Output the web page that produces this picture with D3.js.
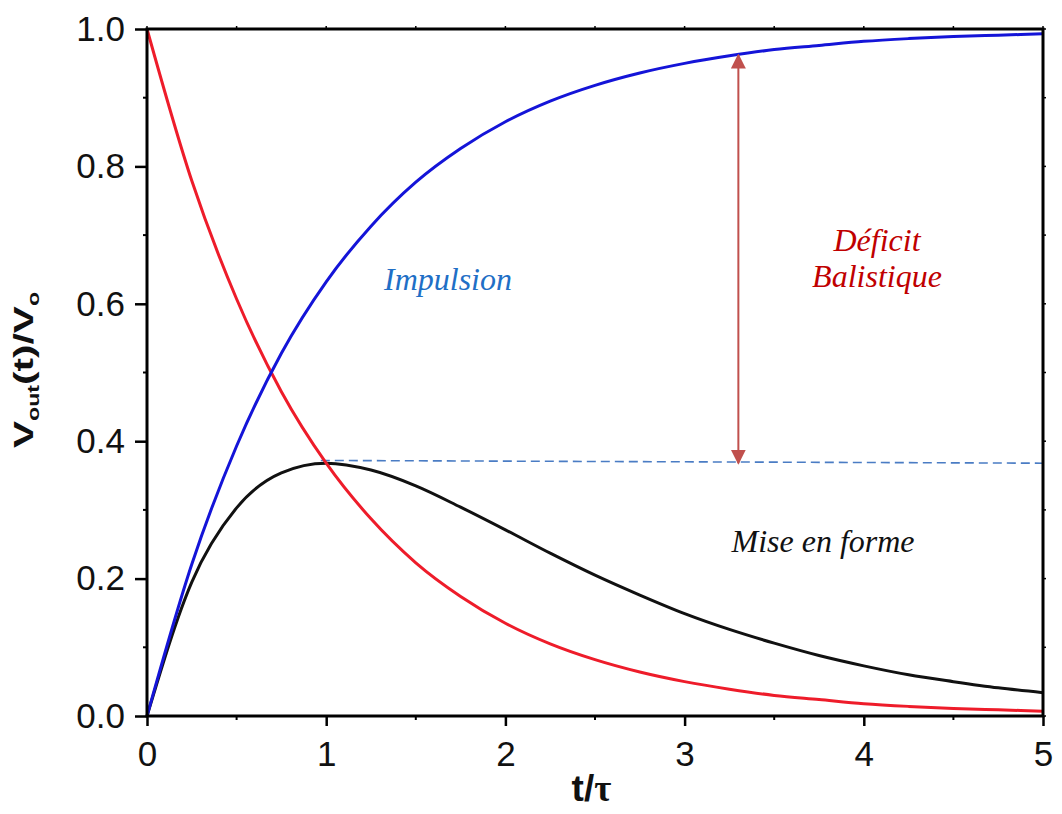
<!DOCTYPE html>
<html>
<head>
<meta charset="utf-8">
<script src="https://cdn.jsdelivr.net/npm/d3@7"></script>
<style>
  body { margin: 0; background: #fff; }
  .tick text { font-family: "Liberation Sans", Arial, sans-serif; }
</style>
</head>
<body>
<svg class="chart"></svg>
<script>
(function() {
  'use strict';

var tValues = [0, 0.25, 0.5, 0.75, 1, 1.25, 1.5, 1.75, 2, 2.25, 2.5, 2.75, 3, 3.25, 3.5, 3.75, 4, 4.25, 4.5, 4.75, 5];
var decay   = [1, 0.779, 0.607, 0.472, 0.368, 0.287, 0.223, 0.174, 0.135, 0.105, 0.082, 0.064, 0.050, 0.039, 0.030, 0.024, 0.018, 0.014, 0.011, 0.009, 0.007];
var impulse = [0, 0.221, 0.393, 0.528, 0.632, 0.713, 0.777, 0.826, 0.865, 0.895, 0.918, 0.936, 0.950, 0.961, 0.970, 0.976, 0.982, 0.986, 0.989, 0.991, 0.993];
var shaped  = [0, 0.195, 0.303, 0.354, 0.368, 0.358, 0.335, 0.304, 0.271, 0.237, 0.205, 0.176, 0.149, 0.126, 0.106, 0.088, 0.073, 0.060, 0.050, 0.041, 0.034];

var xTicks = [0, 1, 2, 3, 4, 5];
var yTicks = [0, 0.2, 0.4, 0.6, 0.8, 1.0];
var xMinor = [0.5, 1.5, 2.5, 3.5, 4.5];
var yMinor = [0.1, 0.3, 0.5, 0.7, 0.9];

// peak level (dashed) and arrow position
var peakLine = {x0: 0.97, x1: 5, y0: 0.372, y1: 0.368};
var arrow = {x: 3.3, yTop: 0.962, yBottom: 0.368};

var margin = {top: 29, right: 19, bottom: 98, left: 147},
    width = 1062 - margin.left - margin.right,
    height = 814 - margin.top - margin.bottom;

var svg = d3.select('.chart')
    .attr('width', 1062)
    .attr('height', 814);

var defs = svg.append('defs');
defs.append('marker')
    .attr('id', 'head')
    .attr('viewBox', '0 0 10 10')
    .attr('refX', 9).attr('refY', 5)
    .attr('markerWidth', 15).attr('markerHeight', 15)
    .attr('markerUnits', 'userSpaceOnUse')
    .attr('orient', 'auto-start-reverse')
  .append('path')
    .attr('d', 'M0,0 L10,5 L0,10 z')
    .attr('fill', '#c0504d');

var chart = svg.append('g')
    .attr('transform', 'translate(' + margin.left + ',' + margin.top + ')');

var x = d3.scaleLinear().domain([0, 5]).range([0, width]);
var y = d3.scaleLinear().domain([0, 1]).range([height, 0]);

var line = function(vals) {
  return d3.line()
    .x(function(d, i) { return x(tValues[i]); })
    .y(function(d) { return y(d); })
    .curve(d3.curveMonotoneX)(vals);
};

// dashed peak level
chart.append('line')
    .attr('x1', x(peakLine.x0)).attr('y1', y(peakLine.y0))
    .attr('x2', x(peakLine.x1)).attr('y2', y(peakLine.y1))
    .attr('stroke', '#4a7cc4')
    .attr('stroke-width', 1.6)
    .attr('stroke-dasharray', '9,5');

// curves
chart.append('path').attr('d', line(shaped))
    .attr('fill', 'none').attr('stroke', '#111').attr('stroke-width', 3);
chart.append('path').attr('d', line(decay))
    .attr('fill', 'none').attr('stroke', '#ee1c2a').attr('stroke-width', 3);
chart.append('path').attr('d', line(impulse))
    .attr('fill', 'none').attr('stroke', '#1414d8').attr('stroke-width', 3);

// double arrow
chart.append('line')
    .attr('x1', x(arrow.x)).attr('y1', y(arrow.yBottom))
    .attr('x2', x(arrow.x)).attr('y2', y(arrow.yTop))
    .attr('stroke', '#c0504d')
    .attr('stroke-width', 2)
    .attr('marker-start', 'url(#head)')
    .attr('marker-end', 'url(#head)');

// frame
chart.append('rect')
    .attr('width', width).attr('height', height)
    .attr('fill', 'none').attr('stroke', '#000').attr('stroke-width', 3);

// axes
var xAxis = d3.axisBottom(x).tickValues(xTicks).tickFormat(d3.format('d'))
    .tickSizeInner(10).tickSizeOuter(0).tickPadding(15);
var yAxis = d3.axisLeft(y).tickValues(yTicks).tickFormat(d3.format('.1f'))
    .tickSizeInner(12).tickSizeOuter(0).tickPadding(10);

var gx = chart.append('g')
    .attr('transform', 'translate(0,' + height + ')')
    .call(xAxis);
var gy = chart.append('g').call(yAxis);

[gx, gy].forEach(function(g) {
  g.select('.domain').remove();
  g.selectAll('.tick line').attr('stroke', '#000').attr('stroke-width', 2.5);
  g.selectAll('.tick text').attr('fill', '#111').style('font-size', '35px');
});

// minor ticks
chart.selectAll('.xminor')
    .data(xMinor)
  .enter().append('line')
    .attr('x1', function(d) { return x(d); }).attr('x2', function(d) { return x(d); })
    .attr('y1', height).attr('y2', height + 4)
    .attr('stroke', '#000').attr('stroke-width', 2);
chart.selectAll('.yminor')
    .data(yMinor)
  .enter().append('line')
    .attr('y1', function(d) { return y(d); }).attr('y2', function(d) { return y(d); })
    .attr('x1', 0).attr('x2', -4)
    .attr('stroke', '#000').attr('stroke-width', 2);
// top and right small ticks
chart.selectAll('.xtop')
    .data(xTicks.concat(xMinor))
  .enter().append('line')
    .attr('x1', function(d) { return x(d); }).attr('x2', function(d) { return x(d); })
    .attr('y1', 0).attr('y2', -3)
    .attr('stroke', '#000').attr('stroke-width', 1.5);
chart.selectAll('.yright')
    .data(yTicks.concat(yMinor))
  .enter().append('line')
    .attr('y1', function(d) { return y(d); }).attr('y2', function(d) { return y(d); })
    .attr('x1', width).attr('x2', width + 3)
    .attr('stroke', '#000').attr('stroke-width', 1.5);

// axis titles
var xt = chart.append('text')
    .attr('x', x(2.48))
    .attr('y', height + 85)
    .attr('text-anchor', 'middle')
    .style('font-family', '"Liberation Sans", Arial, sans-serif')
    .style('font-weight', 'bold')
    .style('font-size', '37px')
    .attr('fill', '#111');
xt.append('tspan').text('t/');
xt.append('tspan').text('τ').style('font-family', '"Liberation Serif", serif');

// y title is drawn stretched along its length, like the reference
var yt = chart.append('text')
    .attr('transform', 'translate(' + (-114) + ',' + (370 - margin.top) + ') rotate(-90) scale(1.45,1)')
    .attr('text-anchor', 'middle')
    .style('font-family', '"Liberation Sans", Arial, sans-serif')
    .style('font-weight', 'bold')
    .style('font-size', '28px')
    .attr('fill', '#111');
yt.append('tspan').text('V');
yt.append('tspan').text('out').attr('dy', 6).style('font-size', '16px');
yt.append('tspan').text('(t)/V').attr('dy', -6);
yt.append('tspan').text('o').attr('dy', 6).style('font-size', '16px');

// annotations (positions in page pixels)
var serif = '"Liberation Serif", "Times New Roman", serif';
function note(tx, ty, col, s) {
  chart.append('text')
      .attr('x', tx - margin.left).attr('y', ty - margin.top)
      .attr('text-anchor', 'middle')
      .style('font-family', serif).style('font-style', 'italic').style('font-size', '32px')
      .attr('fill', col)
      .text(s);
}
note(448, 290, '#1f6fc6', 'Impulsion');
note(877, 251, '#c00000', 'Déficit');
note(877, 287, '#c00000', 'Balistique');
note(823, 552, '#111', 'Mise en forme');
}());
</script>
</body>
</html>
